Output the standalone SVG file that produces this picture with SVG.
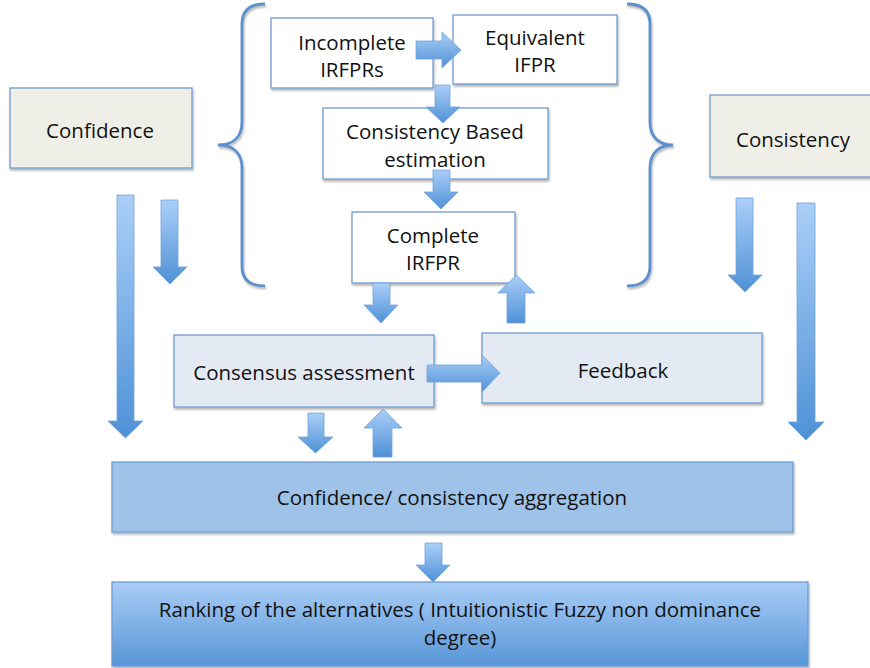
<svg xmlns="http://www.w3.org/2000/svg" width="870" height="668" viewBox="0 0 870 668">
<defs>
<linearGradient id="ga" x1="0" y1="0" x2="0" y2="1">
<stop offset="0" stop-color="#abcff8"/>
<stop offset="1" stop-color="#4f91d6"/>
</linearGradient>
<linearGradient id="gr" x1="0" y1="0" x2="0" y2="1">
<stop offset="0" stop-color="#a9cdf6"/>
<stop offset="1" stop-color="#5896d7"/>
</linearGradient>
<filter id="sh" x="-5%" y="-5%" width="110%" height="120%">
<feDropShadow dx="1" dy="2" stdDeviation="1.2" flood-color="#000" flood-opacity="0.3"/>
</filter>
</defs>
<style>
.box{stroke:#6f9bd0;stroke-width:1.3;filter:url(#sh)}
.w{fill:#ffffff}
.g{fill:#efefe8}
.l{fill:#e3eaf4}
.m{fill:#9fc2e8}
.r{fill:url(#gr)}
.t{font-family:"Open Sans","Liberation Sans",sans-serif;font-size:20.5px;fill:#111;text-anchor:middle}
.arr{fill:url(#ga);stroke:#6fa2dc;stroke-width:0.8}
.br{fill:none;stroke:#5b8fcb;stroke-width:2.8;filter:url(#sh)}
</style>
<rect width="870" height="668" fill="#fff"/>
<g id="braces">
<path class="br" d="M265,4 C250,4 242,10 242,24 L242,122 C242,138 232,145 218,145 C232,145 242,152 242,168 L242,266 C242,280 250,286 265,286"/>
<path class="br" d="M627,4 C642,4 650,10 650,24 L650,122 C650,138 660,145 673,145 C660,145 650,152 650,168 L650,266 C650,280 642,286 627,286"/>
</g>
<g id="incomplete">
<rect class="box w" x="271" y="18" width="162" height="70"/>
<text class="t" x="352" y="50">Incomplete</text>
<text class="t" x="352" y="77">IRFPRs</text>
</g>
<g id="equivalent">
<rect class="box w" x="453" y="15" width="164" height="69"/>
<text class="t" x="535" y="45">Equivalent</text>
<text class="t" x="535" y="72">IFPR</text>
</g>
<g id="estimation">
<rect class="box w" x="323" y="108" width="225" height="71"/>
<text class="t" x="435" y="139">Consistency Based</text>
<text class="t" x="435" y="167">estimation</text>
</g>
<g id="complete">
<rect class="box w" x="352" y="212" width="163" height="71"/>
<text class="t" x="433" y="243">Complete</text>
<text class="t" x="433" y="270">IRFPR</text>
</g>
<g id="confidence">
<rect class="box g" x="10" y="88" width="182" height="80"/>
<text class="t" x="100" y="138">Confidence</text>
</g>
<g id="consistency">
<rect class="box g" x="710" y="95" width="162" height="82"/>
<text class="t" x="793" y="147">Consistency</text>
</g>
<g id="consensus">
<rect class="box l" x="174" y="335" width="260" height="72"/>
<text class="t" x="304" y="380">Consensus assessment</text>
</g>
<g id="feedback">
<rect class="box l" x="482" y="333" width="280" height="70"/>
<text class="t" x="623" y="378">Feedback</text>
</g>
<g id="aggregation">
<rect class="box m" x="112" y="462" width="681" height="70"/>
<text class="t" x="452" y="505">Confidence/ consistency aggregation</text>
</g>
<g id="ranking">
<rect class="box r" x="112" y="582" width="696" height="84"/>
<text class="t" x="460" y="617">Ranking of the alternatives ( Intuitionistic Fuzzy non dominance</text>
<text class="t" x="460" y="645">degree)</text>
</g>
<g id="connectors">
<polygon class="arr" points="117,195 134,195 134,421 143,421 125.5,438 108,421 117,421"/>
<polygon class="arr" points="161,200 178,200 178,267 187,267 170,284 153,267 161,267"/>
<polygon class="arr" points="736,198 753,198 753,275 762,275 745,292 728,275 736,275"/>
<polygon class="arr" points="797,203 815,203 815,422 824,422 806,440 788,422 797,422"/>
<polygon class="arr" points="416,41 442,41 442,32 461,50 442,68 442,59 416,59"/>
<polygon class="arr" points="435,85 450,85 450,107 460,107 443,123 426,107 435,107"/>
<polygon class="arr" points="433,170 450,170 450,192 458,192 441,209 424,192 433,192"/>
<polygon class="arr" points="373,283 390,283 390,305 398,305 381,323 364,305 373,305"/>
<polygon class="arr" points="507,323 525,323 525,293 535,293 516.5,275 498,293 507,293"/>
<polygon class="arr" points="427,365 482,365 482,355 500,373 482,392 482,382 427,382"/>
<polygon class="arr" points="308,413 324,413 324,437 333,437 315.5,453 298,437 308,437"/>
<polygon class="arr" points="373,457 392,457 392,428 402,428 383,409 364,428 373,428"/>
<polygon class="arr" points="425,543 442,543 442,565 450,565 433,582 416,565 425,565"/>
</g>
</svg>
